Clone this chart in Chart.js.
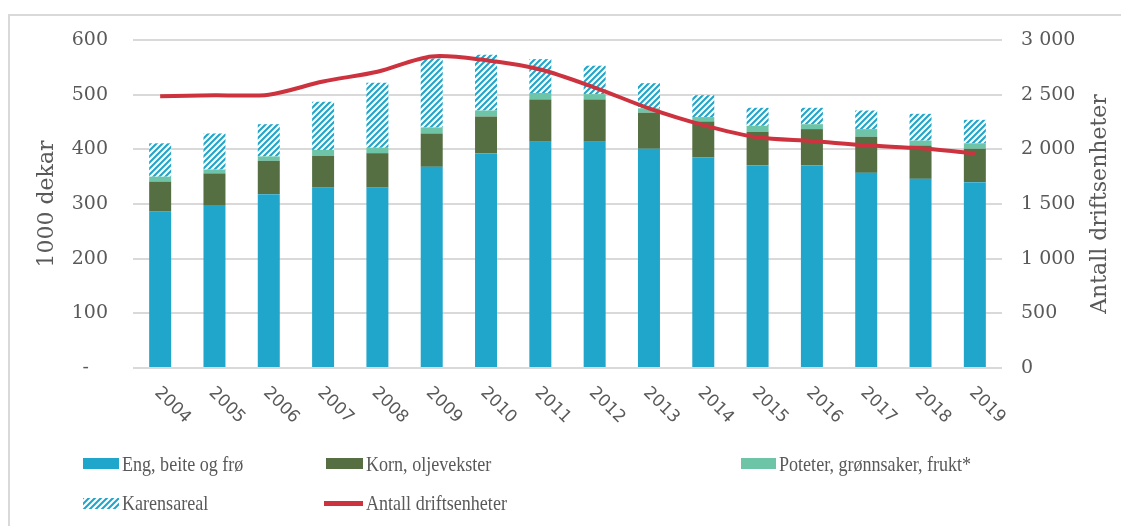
<!DOCTYPE html>
<html>
<head>
<meta charset="utf-8">
<script src="https://cdn.jsdelivr.net/npm/chart.js@4.4.1/dist/chart.umd.min.js"></script>
<style>
body { margin: 0; background: #fff; }
#wrap { position: relative; width: 1121px; height: 526px; overflow: hidden; }
#frame { position: absolute; left: 8px; top: 14px; width: 1130px; height: 530px; border-left: 2px solid #d9d9d9; border-top: 2px solid #d9d9d9; }
#chart_canvas { position: absolute; left: 0; top: 0; }
.lg { position: absolute; font: 21px "Liberation Serif", serif; color: #595959; height: 24px; line-height: 24px; white-space: nowrap; transform: scaleX(0.86); transform-origin: 0 50%; }
.sw { position: absolute; }
</style>
</head>
<body>
<div id="wrap">
  <div id="frame"></div>
  <canvas id="chart_canvas" width="1121" height="526"></canvas>
  <div class="sw" style="left:83px;top:458px;width:36px;height:11px;background:#21a6cb"></div>
  <div class="lg" style="left:122px;top:452px">Eng, beite og frø</div>
  <div class="sw" style="left:326px;top:458px;width:37px;height:11px;background:#556f43"></div>
  <div class="lg" style="left:366px;top:452px">Korn, oljevekster</div>
  <div class="sw" style="left:741px;top:458px;width:35px;height:11px;background:#6ec4a7"></div>
  <div class="lg" style="left:779px;top:452px">Poteter, grønnsaker, frukt*</div>
  <canvas class="sw" id="hatch_swatch" width="36" height="11" style="left:83px;top:498px"></canvas>
  <div class="lg" style="left:122px;top:491px">Karensareal</div>
  <div class="sw" style="left:324px;top:501px;width:39px;height:5px;background:#cc333f"></div>
  <div class="lg" style="left:366px;top:491px">Antall driftsenheter</div>
</div>
<script>
const years = ['2004', '2005', '2006', '2007', '2008', '2009', '2010', '2011', '2012', '2013', '2014', '2015', '2016', '2017', '2018', '2019'];
const engData = [286, 298, 318, 330, 330, 368, 393, 414, 414, 401, 385, 371, 371, 357, 346, 340];
const kornData = [55, 58, 61, 58, 63, 61, 67, 77, 77, 66, 66, 61, 66, 66, 61, 61];
const poteterData = [9, 7, 8, 11, 10, 11, 11, 12, 10, 8, 8, 11, 9, 14, 9, 10];
const karensData = [61, 66, 59, 88, 119, 126, 102, 62, 52, 46, 40, 33, 30, 34, 49, 43];
const driftData = [2485, 2495, 2500, 2620, 2710, 2850, 2815, 2730, 2565, 2375, 2222, 2110, 2076, 2037, 2009, 1963];

const textColor = '#595959';

// blue "////" stripes on white for Karensareal
function makeHatch() {
    var c = document.createElement('canvas');
    c.width = 6;
    c.height = 6;
    var g = c.getContext('2d');
    g.fillStyle = '#fff';
    g.fillRect(0, 0, 6, 6);
    g.strokeStyle = '#21a6cb';
    g.lineWidth = 2.1;
    g.beginPath();
    for (var k = 0; k <= 2; k++) {
        g.moveTo(-2, 6 * k + 2);
        g.lineTo(6 * k + 2, -2);
    }
    g.stroke();
    return c;
}
var hatchTile = makeHatch();
var hctx = document.getElementById('hatch_swatch').getContext('2d');
hctx.fillStyle = hctx.createPattern(hatchTile, 'repeat');
hctx.fillRect(0, 0, 36, 11);

var context = document.getElementById('chart_canvas').getContext('2d');
var hatch = context.createPattern(hatchTile, 'repeat');

function fmtThousands(v) {
    if (v >= 1000) {
        return Math.floor(v / 1000) + '\u00a0' + String(v % 1000).padStart(3, '0');
    }
    return String(v);
}

const extraText = {
    id: 'extraText',
    afterDraw: function(chart) {
        var c = chart.ctx;
        var xs = chart.scales.x;
        var area = chart.chartArea;
        c.save();
        c.fillStyle = textColor;
        c.font = '17px "DejaVu Sans"';
        c.textAlign = 'left';
        c.textBaseline = 'middle';
        years.forEach(function(label, i) {
            c.save();
            c.translate(xs.getPixelForTick(i) - 3, area.bottom + 22);
            c.rotate(Math.PI / 4);
            c.fillText(label, 0, 0);
            c.restore();
        });
        var midY = (area.top + area.bottom) / 2;
        c.font = '22px "DejaVu Serif"';
        c.textAlign = 'center';
        c.save();
        c.translate(47, midY);
        c.rotate(-Math.PI / 2);
        c.fillText('1000 dekar', 0, 0);
        c.restore();
        c.save();
        c.translate(1100, midY);
        c.rotate(-Math.PI / 2);
        c.fillText('Antall driftsenheter', 0, 0);
        c.restore();
        c.restore();
    }
};

var barDefaults = {
    type: 'bar',
    stack: 'areal',
    yAxisID: 'y',
    order: 1,
    barPercentage: 0.405,
    categoryPercentage: 1,
    borderWidth: 0
};

var chartData = {
    labels: years,
    datasets: [
        Object.assign({ label: 'Eng, beite og frø', data: engData, backgroundColor: '#21a6cb' }, barDefaults),
        Object.assign({ label: 'Korn, oljevekster', data: kornData, backgroundColor: '#556f43' }, barDefaults),
        Object.assign({ label: 'Poteter, grønnsaker, frukt*', data: poteterData, backgroundColor: '#6ec4a7' }, barDefaults),
        Object.assign({ label: 'Karensareal', data: karensData, backgroundColor: hatch }, barDefaults),
        {
            type: 'line',
            label: 'Antall driftsenheter',
            data: driftData,
            yAxisID: 'y1',
            order: 0,
            borderColor: '#cc333f',
            borderWidth: 4,
            pointRadius: 0,
            tension: 0.3,
            fill: false
        }
    ]
};

new Chart(context, {
    type: 'bar',
    data: chartData,
    plugins: [extraText],
    options: {
        responsive: false,
        animation: false,
        layout: { padding: { top: 40, left: 0, right: 0, bottom: 0 } },
        plugins: { legend: { display: false }, tooltip: { enabled: false } },
        scales: {
            x: {
                stacked: true,
                grid: { display: false },
                border: { display: false },
                ticks: { display: false },
                afterFit: function(s) { s.height = 526 - 368; }
            },
            y: {
                stacked: true,
                position: 'left',
                min: 0,
                max: 600,
                ticks: {
                    stepSize: 100,
                    padding: 25,
                    color: textColor,
                    font: { family: 'DejaVu Serif', size: 19 },
                    callback: function(v) { return v === 0 ? '-\u2002\u2002' : String(v); }
                },
                grid: { color: '#d9d9d9', lineWidth: 2, drawTicks: false },
                border: { display: false },
                afterFit: function(s) { s.width = 133; }
            },
            y1: {
                position: 'right',
                min: 0,
                max: 3000,
                ticks: {
                    stepSize: 500,
                    padding: 19,
                    color: textColor,
                    font: { family: 'DejaVu Serif', size: 19 },
                    callback: function(v) { return fmtThousands(v); }
                },
                grid: { display: false, drawTicks: false },
                border: { display: false },
                afterFit: function(s) { s.width = 1121 - 1002; }
            }
        }
    }
});
</script>
</body>
</html>
